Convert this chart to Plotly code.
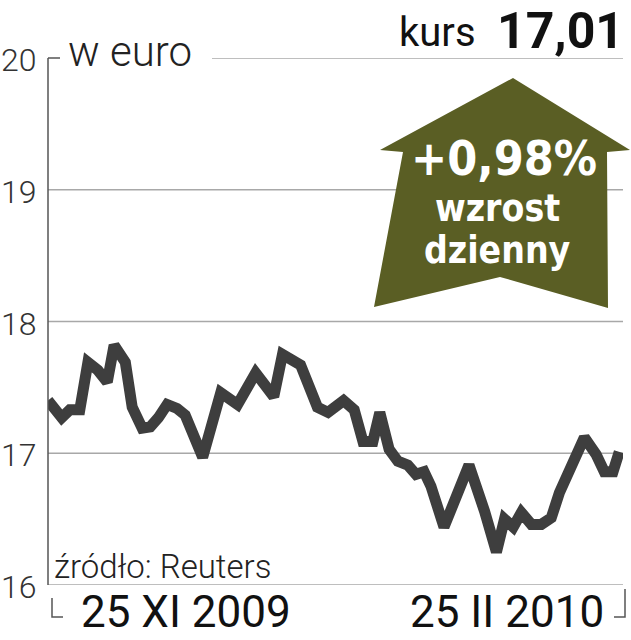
import plotly.graph_objects as go

# day offsets from 25 XI 2009
days = [0, 2.2, 3.5, 5.1, 6.4, 8.0, 9.5, 10.6, 12.4, 13.5, 15.1, 16.4, 17.7, 19.1, 20.7, 22.0,
        24.8, 26.4, 27.7, 30.4, 33.3, 36.2, 37.6, 40.5, 41.8, 43.2, 44.9, 47.4, 49.1, 50.5,
        52.1, 53.2, 54.7, 56.1, 57.7, 59.0, 60.3, 61.4, 63.5, 65.4, 67.5, 70.0, 71.9, 73.2,
        74.6, 75.9, 77.5, 79.1, 80.7, 82.0, 83.9, 86.0, 87.9, 89.2, 90.6, 91.6]
kurs = [17.40, 17.27, 17.33, 17.33, 17.69, 17.63, 17.54, 17.82, 17.69, 17.35, 17.19, 17.20,
        17.27, 17.37, 17.34, 17.29, 16.97, 17.27, 17.46, 17.37, 17.61, 17.43, 17.75, 17.67,
        17.50, 17.35, 17.31, 17.40, 17.33, 17.09, 17.09, 17.31, 17.03, 16.94, 16.91, 16.84,
        16.86, 16.75, 16.44, 16.67, 16.91, 16.56, 16.25, 16.50, 16.44, 16.55, 16.46, 16.46,
        16.51, 16.70, 16.90, 17.12, 16.99, 16.86, 16.86, 17.01]
y_ticks = [16, 17, 18, 19, 20]
x_labels = ["25 XI 2009", "25 II 2010"]

W, H = 631, 640
L, R, T, B = 48, 623, 58, 585
def px(x): return (x - L) / (R - L)
def py(y): return (B - y) / (B - T)

fig = go.Figure()
fig.add_trace(go.Scatter(x=days, y=kurs, mode="lines",
                         line=dict(color="#3e3e3e", width=11), hoverinfo="skip"))

NARROW = "Liberation Sans Narrow, DejaVu Sans Condensed, Arial Narrow, sans-serif"
ROB = "Roboto, Liberation Sans, sans-serif"

shapes = []
gc = "#a8a8a8"
for v in [17, 18, 19]:
    shapes.append(dict(type="line", xref="paper", yref="y", x0=0, x1=1, y0=v, y1=v,
                       line=dict(color=gc, width=1.5), layer="below"))
shapes.append(dict(type="line", xref="paper", yref="y", x0=px(212), x1=1, y0=20, y1=20,
                   line=dict(color=gc, width=1.5), layer="below"))
shapes.append(dict(type="line", xref="paper", yref="y", x0=0, x1=1, y0=16, y1=16,
                   line=dict(color=gc, width=1.5), layer="below"))
shapes.append(dict(type="line", xref="paper", yref="paper", x0=0, x1=0, y0=0, y1=1,
                   line=dict(color="#555", width=1.5)))
shapes.append(dict(type="line", xref="paper", yref="paper", x0=0, x1=px(60), y0=1, y1=1,
                   line=dict(color="#555", width=1.5)))
shapes.append(dict(type="path", xref="paper", yref="paper",
                   path=f"M {px(52)} {py(598)} L {px(52)} {py(617)} L {px(63)} {py(617)}",
                   line=dict(color="#555", width=1.5)))
shapes.append(dict(type="path", xref="paper", yref="paper",
                   path=f"M {px(614)} {py(617)} L {px(625)} {py(617)} L {px(625)} {py(589)}",
                   line=dict(color="#555", width=1.5)))
pts = [(513, 78), (630, 150), (607, 152), (608, 308), (500, 277), (374, 307), (403, 152), (380, 150)]
path = "M " + " L ".join(f"{px(a)} {py(b)}" for a, b in pts) + " Z"
shapes.append(dict(type="path", xref="paper", yref="paper", path=path,
                   fillcolor="#5a5e24", line=dict(width=0), layer="above"))

ann = []
def text(x, y, s, size, color="#222", family=ROB, weight=None, xanchor="center", yanchor="middle"):
    f = dict(size=size, color=color, family=family)
    if weight:
        f["weight"] = weight
    ann.append(dict(xref="paper", yref="paper", x=px(x), y=py(y), text=s, showarrow=False,
                    font=f, xanchor=xanchor, yanchor=yanchor))

for v in y_ticks:
    text(39, B - (v - 16) * (B - T) / 4 + 2, str(v), 32, "#333", ROB, 300, xanchor="right")
text(66, 52, "w euro", 42, "#222", ROB, 300, xanchor="left")
text(478, 32, "kurs", 40, "#111", ROB, 400, xanchor="right")
text(626, 31, "17,01", 50, "#111", ROB, 700, xanchor="right")
text(504, 158, "+0,98%", 48, "white", NARROW, 700)
text(497, 208, "wzrost", 37, "white", NARROW, 700)
text(497, 250, "dzienny", 37, "white", NARROW, 700)
text(52, 566, "źródło: Reuters", 33, "#222", ROB, 300, xanchor="left")
text(186, 612, x_labels[0], 44, "#111", ROB, 400)
text(606, 612, x_labels[1], 44, "#111", ROB, 400, xanchor="right")

fig.update_layout(
    width=W, height=H, margin=dict(l=L, r=W - R, t=T, b=H - B),
    paper_bgcolor="white", plot_bgcolor="white", showlegend=False,
    xaxis=dict(range=[0, 92.2], visible=False, fixedrange=True),
    yaxis=dict(range=[16, 20], showgrid=False, showticklabels=False, zeroline=False,
               fixedrange=True),
    shapes=shapes, annotations=ann,
)
fig.write_html("out.html", config={"displayModeBar": False},
               post_script="document.body.style.margin='0';document.body.style.overflow='hidden';")
